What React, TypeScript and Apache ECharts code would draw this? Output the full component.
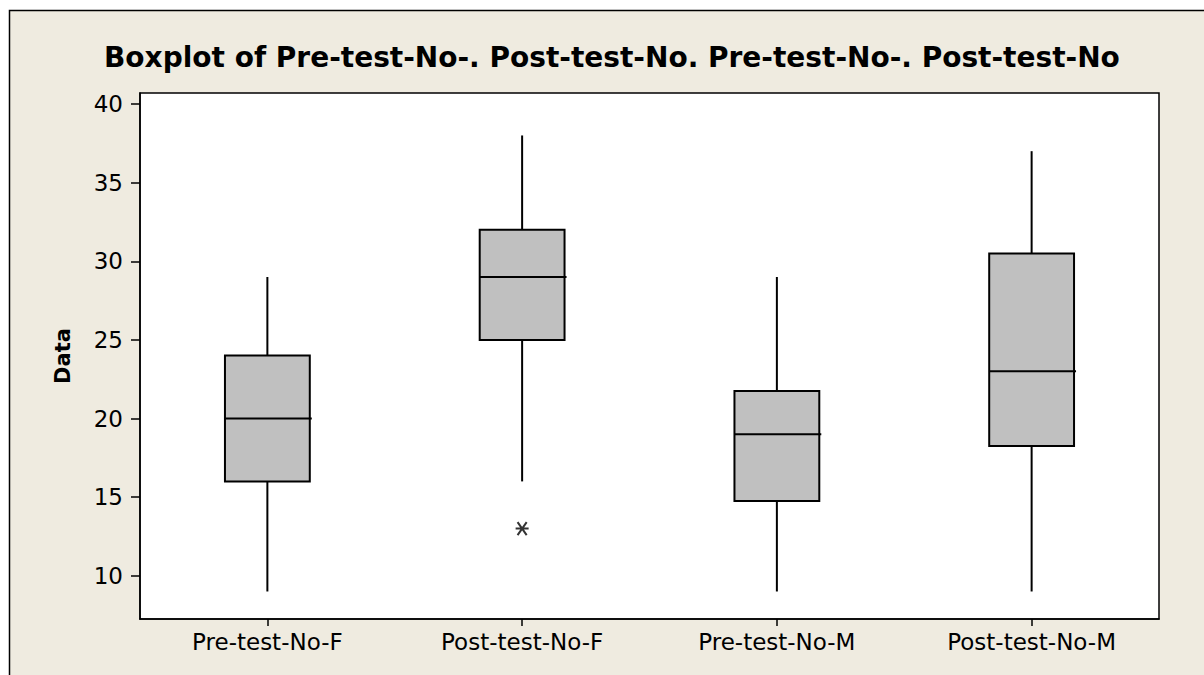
import React, { useEffect, useRef } from "react";
import * as echarts from "echarts";

const categories = ["Pre-test-No-F", "Post-test-No-F", "Pre-test-No-M", "Post-test-No-M"];
const whiskerLow = [9, 16, 9, 9];
const quartile1 = [16, 25, 14.75, 18.25];
const medians = [20, 29, 19, 23];
const quartile3 = [24, 32, 21.75, 30.5];
const whiskerHigh = [29, 38, 29, 37];
const outlierCategories = ["Post-test-No-F"];
const outlierValues = [13];
const yTicks = [10, 15, 20, 25, 30, 35, 40];

const titleText = "Boxplot of Pre-test-No-. Post-test-No. Pre-test-No-. Post-test-No";
const FONT = "DejaVu Sans";

export default function App() {
  const ref = useRef<HTMLDivElement>(null);
  useEffect(() => {
    if (!ref.current) return;
    const chart = echarts.init(ref.current, null, { renderer: "svg" });
    const boxData = categories.map((_, i) => [
      i,
      whiskerLow[i],
      quartile1[i],
      medians[i],
      quartile3[i],
      whiskerHigh[i],
    ]);
    const outData = outlierCategories.map((c, i) => [categories.indexOf(c), outlierValues[i]]);
    const option: any = {
      animation: false,
      backgroundColor: "#ffffff",
      title: {
        text: titleText,
        left: 104,
        top: 43,
        padding: 0,
        textStyle: { fontFamily: FONT, fontWeight: "bold", fontSize: 28, color: "#000" },
      },
      graphic: [
        {
          type: "rect",
          z: -100,
          silent: true,
          shape: { x: 9.5, y: 10.5, width: 1400, height: 900 },
          style: { fill: "#EFEBE0", stroke: "#000", lineWidth: 1.5 },
        },
      ],
      grid: {
        left: 140,
        top: 93,
        width: 1019,
        height: 526,
        show: true,
        backgroundColor: "#ffffff",
        borderColor: "#000",
        borderWidth: 1.5,
      },
      xAxis: {
        type: "category",
        data: categories,
        boundaryGap: true,
        axisLine: { show: true, lineStyle: { color: "#000", width: 1.5 } },
        axisTick: { show: true, alignWithLabel: true, length: 7, lineStyle: { color: "#000", width: 1.5 } },
        axisLabel: { color: "#000", fontFamily: FONT, fontSize: 23, margin: 11 },
        splitLine: { show: false },
      },
      yAxis: {
        type: "value",
        min: 7.25,
        max: 40.7,
        name: "Data",
        nameLocation: "middle",
        nameGap: 67,
        nameTextStyle: { fontFamily: FONT, fontWeight: "bold", fontSize: 21, color: "#000" },
        axisLine: { show: true, lineStyle: { color: "#000", width: 1.5 } },
        axisTick: { show: true, length: 9, customValues: yTicks, lineStyle: { color: "#000", width: 1.5 } },
        axisLabel: { color: "#000", fontFamily: FONT, fontSize: 23, margin: 17, customValues: yTicks },
        splitLine: { show: false },
      },
      series: [
        {
          type: "custom",
          data: boxData,
          encode: { x: 0, y: [1, 2, 3, 4, 5] },
          renderItem: (params: any, api: any) => {
            const x = api.value(0);
            const lo = api.coord([x, api.value(1)]);
            const q1 = api.coord([x, api.value(2)]);
            const med = api.coord([x, api.value(3)]);
            const q3 = api.coord([x, api.value(4)]);
            const hi = api.coord([x, api.value(5)]);
            const bw = api.size([1, 0])[0] * 0.333;
            const cx = lo[0];
            const ls = { stroke: "#000", lineWidth: 2 };
            return {
              type: "group",
              children: [
                { type: "line", shape: { x1: cx, y1: hi[1], x2: cx, y2: q3[1] }, style: ls },
                { type: "line", shape: { x1: cx, y1: q1[1], x2: cx, y2: lo[1] }, style: ls },
                {
                  type: "rect",
                  shape: { x: cx - bw / 2, y: q3[1], width: bw, height: q1[1] - q3[1] },
                  style: { fill: "#C0C0C0", stroke: "#000", lineWidth: 2 },
                },
                { type: "line", shape: { x1: cx - bw / 2, y1: med[1], x2: cx + bw / 2 + 2, y2: med[1] }, style: ls },
              ],
            };
          },
        },
        {
          type: "scatter",
          data: outData,
          symbol: "path://M0,5L10,5M1.5,1.5L8.5,8.5M8.5,1.5L1.5,8.5",
          symbolSize: 13,
          itemStyle: { color: "transparent", borderColor: "#000", borderWidth: 2 },
        },
      ],
    };
    chart.setOption(option);
    return () => chart.dispose();
  }, []);
  return (
    <div
      ref={ref}
      style={{ position: "fixed", left: 0, top: 0, width: 1204, height: 675 }}
    />
  );
}
